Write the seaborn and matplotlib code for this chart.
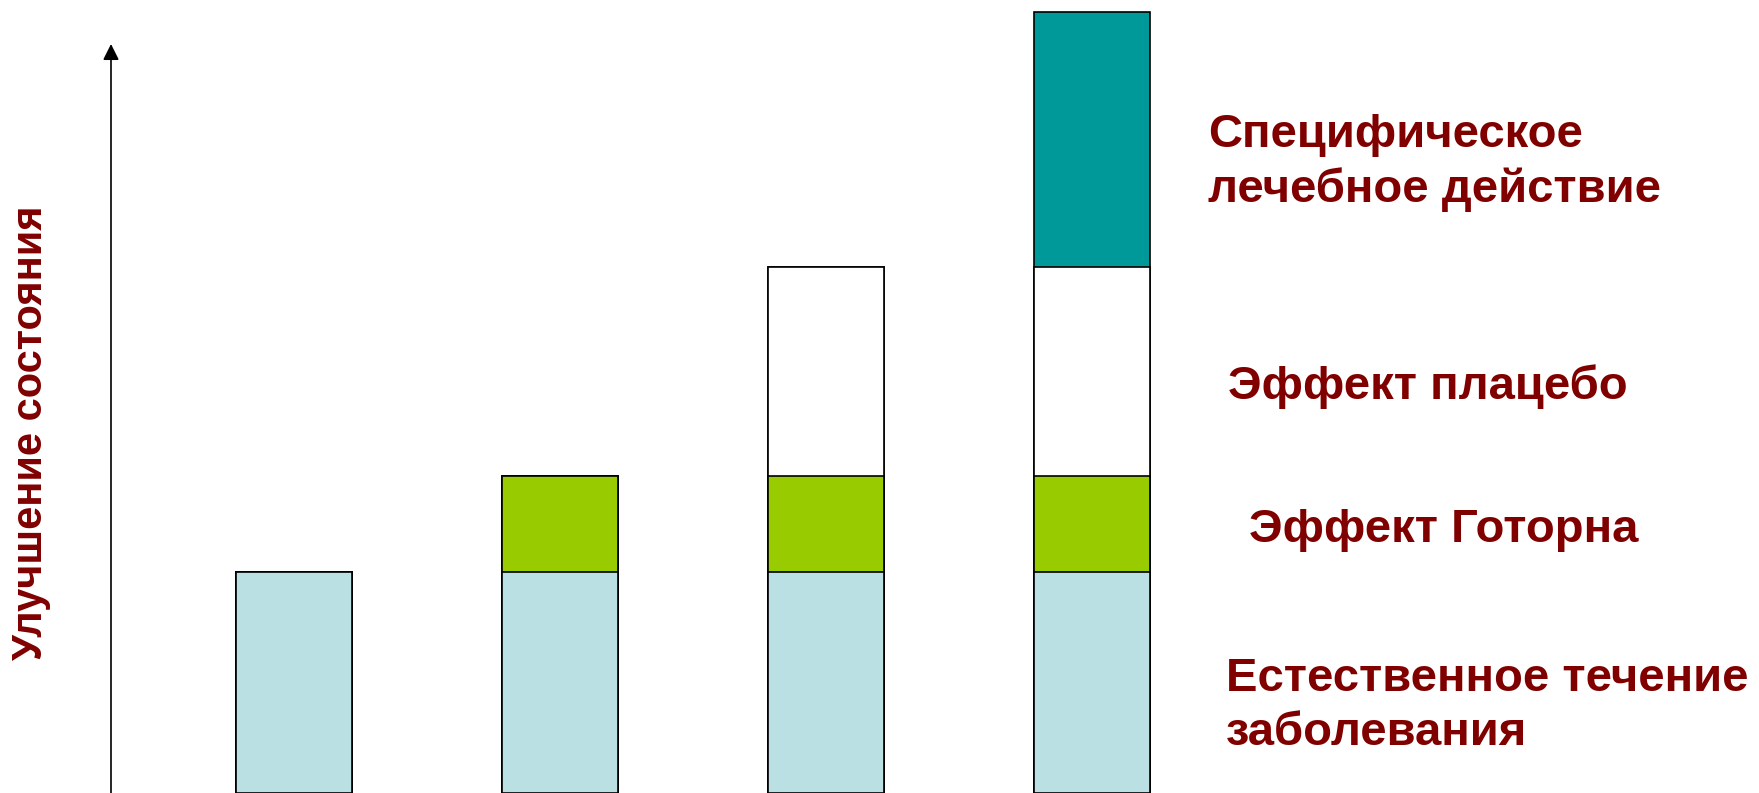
import numpy as np
import pandas as pd
import matplotlib
matplotlib.use("Agg")
import matplotlib.pyplot as plt
import seaborn as sns

# ---- data ----
stages = ["1", "2", "3", "4"]
natural = [2.21, 2.21, 2.21, 2.21]
hawthorne = [0.0, 0.96, 0.96, 0.96]
placebo = [0.0, 0.0, 2.09, 2.09]
specific = [0.0, 0.0, 0.0, 2.55]
layer_names = ["Естественное течение\nзаболевания", "Эффект Готорна",
               "Эффект плацебо", "Специфическое\nлечебное действие"]
y_label = "Улучшение состояния"

colors = ["#BBE0E3", "#99CC00", "#FFFFFF", "#009999"]
text_color = "#800000"

sns.set_theme(style="white")
plt.rcParams["font.family"] = ["Liberation Sans", "DejaVu Sans"]

fig = plt.figure(figsize=(17.59, 7.93), dpi=100)
ax = fig.add_axes([0, 0, 1, 1])

layers = np.array([natural, hawthorne, placebo, specific])
cum = np.cumsum(layers, axis=0)
for i in reversed(range(len(layers))):
    sns.barplot(x=stages, y=cum[i], order=stages, color=colors[i],
                saturation=1, edgecolor="black", linewidth=1.2,
                width=0.436, ax=ax)

ax.set_xlim(-1.105, 5.510)
ax.set_ylim(0, 7.93)
ax.set_axis_off()

# vertical axis arrow
ax.annotate("", xy=(111 / 1759, 1 - 44 / 793), xytext=(111 / 1759, -0.01),
            xycoords="axes fraction", textcoords="axes fraction",
            arrowprops=dict(arrowstyle="-|>", color="black", lw=1.2,
                            mutation_scale=24, shrinkA=0, shrinkB=0))

# y label
ax.text(31 / 1759, 0.454, y_label, transform=ax.transAxes, rotation=90,
        ha="center", va="center", fontsize=30, fontweight="bold",
        color=text_color)

# layer labels
label_pos = [(0.697, 0.110), (0.710, 0.332), (0.698, 0.512), (0.687, 0.795)]
for name, (lx, ly) in zip(layer_names, label_pos):
    ax.text(lx, ly, name, transform=ax.transAxes, ha="left", va="center",
            fontsize=34, fontweight="bold", color=text_color,
            linespacing=1.28)

fig.savefig("out.png", dpi=100)
